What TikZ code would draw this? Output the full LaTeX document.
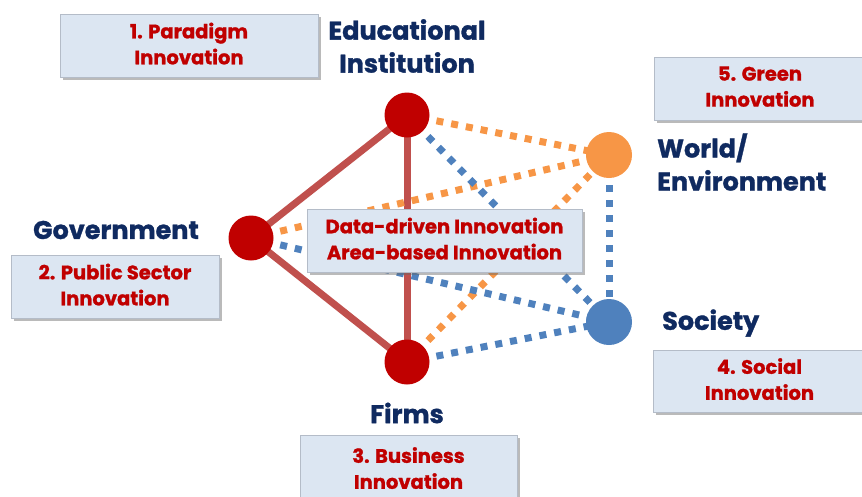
\documentclass[tikz,border=0pt]{standalone}
\usepackage{fontspec}
\setmainfont{Poppins}[BoldFont={Poppins Bold}, BoldFeatures={FakeBold=1.2}]
\usetikzlibrary{shadows}
\definecolor{boxfill}{HTML}{DCE6F2}
\definecolor{boxdraw}{HTML}{B4BCC8}
\definecolor{txtred}{HTML}{C00000}
\definecolor{navy}{HTML}{0F2A60}
\definecolor{linered}{HTML}{C0504D}
\definecolor{dotorange}{HTML}{F79646}
\definecolor{dotblue}{HTML}{4F81BD}
\tikzset{
  ibox/.style={draw=boxdraw, line width=0.8pt, fill=boxfill, align=center,
    text=txtred, font=\bfseries\fontsize{19.5}{26}\selectfont, inner sep=0pt, text depth=4pt,
    drop shadow={shadow xshift=3pt, shadow yshift=-3pt, opacity=0.45, fill=black!60}},
  lbl/.style={text=navy, font=\bfseries\fontsize{25.5}{33}\selectfont, inner sep=0pt},
  redlink/.style={draw=linered, line width=7pt},
  orlink/.style={draw=dotorange, line width=7pt, dash pattern=on 7pt off 8pt},
  bllink/.style={draw=dotblue, line width=7pt, dash pattern=on 7pt off 8pt},
  hub/.style={circle, inner sep=0pt, minimum size=#1}
}
\begin{document}
\begin{tikzpicture}[x=1pt, y=-1pt]
\useasboundingbox (0,0) rectangle (862,496);
\clip (0,0) rectangle (862,496);
% hub positions
\coordinate (edu) at (407,115);
\coordinate (gov) at (251,238);
\coordinate (firm) at (407,362);
\coordinate (world) at (609,155);
\coordinate (soc) at (609,322);
% links
\draw[redlink] (edu) -- (gov);
\draw[redlink] (gov) -- (firm);
\draw[redlink] (edu) -- (firm);
\draw[orlink] (edu) -- (world);
\draw[orlink] (gov) -- (world);
\draw[orlink] (firm) -- (world);
\draw[bllink] (edu) -- (soc);
\draw[bllink] (gov) -- (soc);
\draw[bllink] (firm) -- (soc);
\draw[bllink] (world) -- (soc);
% circles
\node[hub=45pt, fill=txtred] (eduC) at (edu) {};
\node[hub=45pt, fill=txtred] (govC) at (gov) {};
\node[hub=45pt, fill=txtred] (firmC) at (firm) {};
\node[hub=46pt, fill=dotorange] (worldC) at (world) {};
\node[hub=46pt, fill=dotblue] (socC) at (soc) {};
% labels
\node[lbl, align=center] (eduL) at (407,46) {Educational\\Institution};
\node[lbl, align=left, anchor=west] (worldL) at (657,162) {World/\\Environment};
\node[lbl] (govL) at (116,230) {Government};
\node[lbl, anchor=west] (socL) at (662,323) {Society};
\node[lbl] (firmL) at (407,413) {Firms};
% boxes
\node[ibox, minimum width=258pt, minimum height=63pt] (b1) at (189,45.5) {1. Paradigm\\Innovation};
\node[ibox, minimum width=212pt, minimum height=63pt] (b5) at (760,88.5) {5. Green\\Innovation};
\node[ibox, minimum width=208pt, minimum height=63pt] (b2) at (115,286.5) {2. Public Sector\\Innovation};
\node[ibox, minimum width=217pt, minimum height=70pt] (b3) at (408.5,470) {3. Business\\Innovation};
\node[ibox, minimum width=213pt, minimum height=62pt] (b4) at (759.5,381) {4. Social\\Innovation};
\node[ibox, minimum width=275pt, minimum height=63pt] (bc) at (444.5,240.5) {Data-driven Innovation\\Area-based Innovation};
\end{tikzpicture}
\end{document}
